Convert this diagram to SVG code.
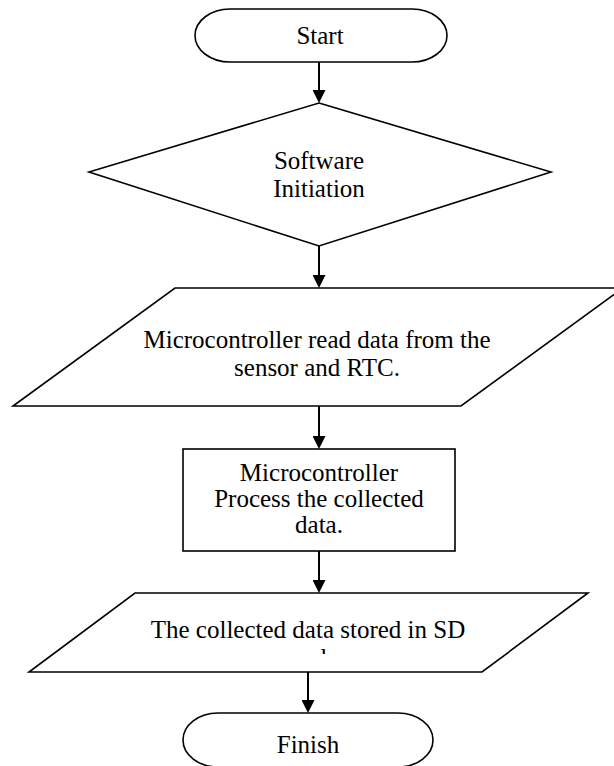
<svg xmlns="http://www.w3.org/2000/svg" width="614" height="766" viewBox="0 0 614 766">
  <style>
    .shape { fill: #ffffff; stroke: #000000; stroke-width: 1.6; stroke-linejoin: miter; }
    .label { font-family: "Liberation Serif", "Times New Roman", serif; font-size: 25px; fill: #000000; text-anchor: middle; }
    .flow { stroke: #000000; stroke-width: 2; fill: none; marker-end: url(#arrow); }
  </style>
  <defs>
    <marker id="arrow" markerUnits="userSpaceOnUse" markerWidth="13" markerHeight="13" refX="8" refY="6.5" orient="auto">
      <path d="M0,0 L13,6.5 L0,13 Z" fill="#000000"/>
    </marker>
    <!-- the second line of the storage box is cut off by its frame -->
    <clipPath id="storeClip">
      <rect x="0" y="0" width="614" height="654"/>
    </clipPath>
  </defs>

  <rect x="0" y="0" width="614" height="766" fill="#ffffff"/>

  <g id="connectors">
    <line class="flow" x1="319" y1="62" x2="319" y2="98"/>
    <line class="flow" x1="319" y1="246" x2="319" y2="283"/>
    <line class="flow" x1="319" y1="406" x2="319" y2="444"/>
    <line class="flow" x1="319" y1="551" x2="319" y2="588"/>
    <line class="flow" x1="308" y1="672" x2="308" y2="708"/>
  </g>

  <g id="start">
    <path class="shape" d="M230,9 H412 A35,26.5 0 0 1 412,62 H230 A35,26.5 0 0 1 230,9 Z"/>
    <text class="label" x="320" y="44">Start</text>
  </g>

  <g id="software-initiation">
    <polygon class="shape" points="319,103 551,172 319,246 89,172"/>
    <text class="label" x="319" y="169">Software</text>
    <text class="label" x="319" y="197">Initiation</text>
  </g>

  <g id="read-data">
    <polygon class="shape" points="175,288 623,288 461,406 13,406"/>
    <text class="label" x="317" y="348">Microcontroller read data from the</text>
    <text class="label" x="317" y="376">sensor and RTC.</text>
  </g>

  <g id="process-data">
    <rect class="shape" x="183" y="449" width="272" height="102"/>
    <text class="label" x="319" y="481">Microcontroller</text>
    <text class="label" x="319" y="507">Process the collected</text>
    <text class="label" x="319" y="533">data.</text>
  </g>

  <g id="store-data">
    <polygon class="shape" points="135,593 588,593 482,672 29,672"/>
    <text class="label" x="308" y="638">The collected data stored in SD</text>
    <text class="label" x="308" y="666" clip-path="url(#storeClip)">card.</text>
  </g>

  <g id="finish">
    <path class="shape" d="M218,713 H398 A35,27 0 0 1 398,767 H218 A35,27 0 0 1 218,713 Z"/>
    <text class="label" x="308" y="753">Finish</text>
  </g>
</svg>
